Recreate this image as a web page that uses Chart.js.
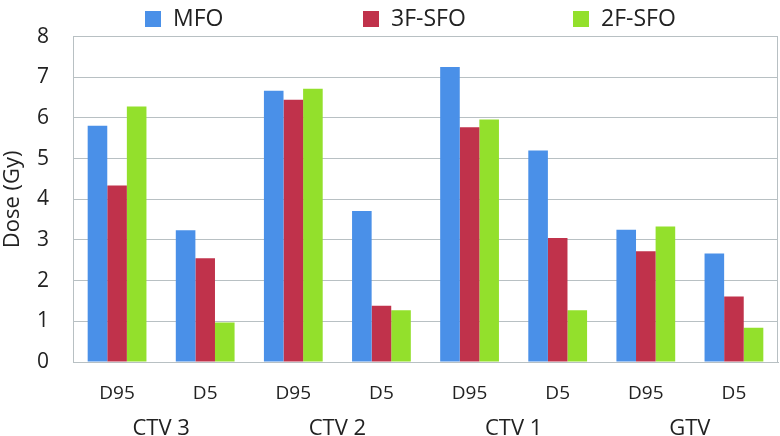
<!DOCTYPE html>
<html>
<head>
<meta charset="utf-8">
<script src="https://cdn.jsdelivr.net/npm/chart.js@4/dist/chart.umd.min.js"></script>
<style>
html,body{margin:0;padding:0;background:#fff;}
#wrap{width:780px;height:436px;position:relative;}
</style>
</head>
<body>
<div id="wrap"><canvas id="c" width="780" height="436"></canvas></div>
<script>
const categories = ['D95','D5','D95','D5','D95','D5','D95','D5'];
const groups = ['CTV 3','CTV 2','CTV 1','GTV'];
const seriesNames = ['MFO','3F-SFO','2F-SFO'];
const mfo    = [5.81, 3.24, 6.67, 3.71, 7.25, 5.20, 3.25, 2.67];
const sfo3f  = [4.34, 2.55, 6.45, 1.38, 5.77, 3.05, 2.72, 1.61];
const sfo2f  = [6.28, 0.97, 6.72, 1.27, 5.96, 1.27, 3.33, 0.84];
const yTicks = [0,1,2,3,4,5,6,7,8];

const colors = ['#4a90e8','#c0324b','#93e02c'];
const FONT = "'Open Sans', 'DejaVu Sans', sans-serif";
const gridColor = '#b8c0c3';

const frame = {
  id:'frame',
  afterDatasetsDraw(chart){
    const a = chart.chartArea, ctx = chart.ctx;
    ctx.save();
    ctx.strokeStyle = gridColor;
    ctx.lineWidth = 1;
    ctx.beginPath();
    ctx.moveTo(Math.round(a.right)-0.5, a.top);
    ctx.lineTo(Math.round(a.right)-0.5, a.bottom);
    ctx.stroke();
    ctx.restore();
  }
};

const legendPos = [145, 363, 573];
const customLegend = {
  id:'customLegend',
  afterDraw(chart){
    const ctx = chart.ctx;
    ctx.save();
    ctx.font = '23px ' + FONT;
    ctx.textBaseline = 'middle';
    chart.data.datasets.forEach((ds,i)=>{
      const x = legendPos[i], y = 19;
      ctx.fillStyle = ds.backgroundColor;
      ctx.fillRect(x, y-8, 16, 16);
      ctx.fillStyle = '#222';
      ctx.fillText(ds.label, x + 28, y);
    });
    ctx.restore();
  }
};

new Chart(document.getElementById('c'), {
  type:'bar',
  data:{
    labels: categories,
    datasets:[
      {label:seriesNames[0], data:mfo, backgroundColor:colors[0]},
      {label:seriesNames[1], data:sfo3f, backgroundColor:colors[1]},
      {label:seriesNames[2], data:sfo2f, backgroundColor:colors[2]}
    ]
  },
  options:{
    responsive:false,
    animation:false,
    layout:{padding:{top:35,right:2,left:0,bottom:0}},
    datasets:{bar:{categoryPercentage:0.667, barPercentage:1.0, borderWidth:0}},
    plugins:{legend:{display:false}, tooltip:{enabled:false}},
    scales:{
      x:{
        position:'bottom',
        grid:{display:false, drawTicks:false},
        border:{display:true, color:gridColor},
        ticks:{font:{family:FONT,size:19}, color:'#222', padding:20, maxRotation:0, autoSkip:false},
        afterFit(s){ s.height = 44; }
      },
      x2:{
        type:'category',
        labels: groups,
        position:'bottom',
        offset:true,
        grid:{display:false, drawTicks:false},
        border:{display:false},
        ticks:{font:{family:FONT,size:22}, color:'#222', padding:10, maxRotation:0, autoSkip:false},
        afterFit(s){ s.height = 30; }
      },
      y:{
        min:0, max:8,
        afterBuildTicks(s){ s.ticks = yTicks.map(v=>({value:v})); },
        grid:{color:gridColor, drawTicks:false},
        border:{display:true, color:gridColor},
        ticks:{font:{family:FONT,size:21}, color:'#222', padding:24},
        title:{display:true, text:'Dose (Gy)', font:{family:FONT,size:22}, color:'#222', padding:{top:0,bottom:2}},
        afterFit(s){ s.width = 73; }
      }
    }
  },
  plugins:[frame, customLegend]
});
</script>
</body>
</html>
